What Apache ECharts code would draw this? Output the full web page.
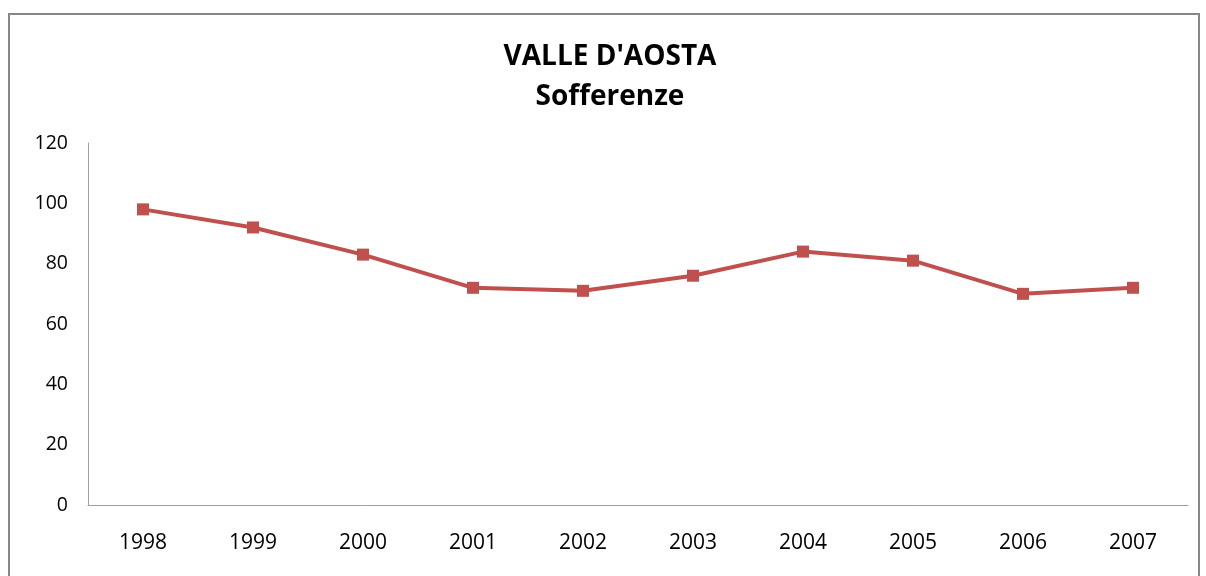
<!DOCTYPE html>
<html>
<head>
	<meta charset="utf-8" />
	<title>VALLE D'AOSTA - Sofferenze</title>
	<style type="text/css">
	*{margin: 0;padding: 0;}
	#main{width: 1206px;height: 576px;background: #fff;}
	</style>
</head>
<body>
<div id="main"></div>
<script src="https://cdn.jsdelivr.net/npm/echarts@6/dist/echarts.min.js"></script>
<script type="text/javascript">
	var anni = ['1998','1999','2000','2001','2002','2003','2004','2005','2006','2007'];
	var sofferenze = [98, 92, 83, 72, 71, 76, 84, 81, 70, 72];

	var font = '"Open Sans", "Liberation Sans", sans-serif';

	var opt = {
		animation: false,
		title: {
			text: "VALLE D'AOSTA\nSofferenze",
			left: 605,
			textAlign: 'center',
			top: 32,
			textStyle: {
				fontFamily: font,
				fontSize: 28,
				fontWeight: 'bold',
				color: '#000',
				lineHeight: 40
			}
		},
		graphic: [{
			type: 'rect',
			shape: {x: 9, y: 14, width: 1190, height: 600},
			style: {fill: 'none', stroke: '#868686', lineWidth: 2}
		}],
		grid: {left: 88, right: 18, top: 143, bottom: 71},
		xAxis: {
			type: 'category',
			data: anni,
			boundaryGap: true,
			axisLine: {lineStyle: {color: '#a0a0a0', width: 1}},
			axisTick: {show: false},
			axisLabel: {
				margin: 28,
				fontFamily: font,
				fontSize: 21,
				color: '#000'
			}
		},
		yAxis: {
			type: 'value',
			min: 0,
			max: 120,
			interval: 20,
			axisLine: {show: true, lineStyle: {color: '#a0a0a0', width: 1}},
			axisTick: {show: false},
			splitLine: {show: false},
			axisLabel: {
				margin: 20,
				fontFamily: font,
				fontSize: 19.5,
				color: '#000'
			}
		},
		series: [{
			name: 'Sofferenze',
			type: 'line',
			data: sofferenze,
			symbol: 'rect',
			symbolSize: 12,
			lineStyle: {color: '#C0504D', width: 4},
			itemStyle: {color: '#C0504D'}
		}]
	};

	var chart = echarts.init(document.getElementById('main'));
	chart.setOption(opt);
</script>
</body>
</html>
